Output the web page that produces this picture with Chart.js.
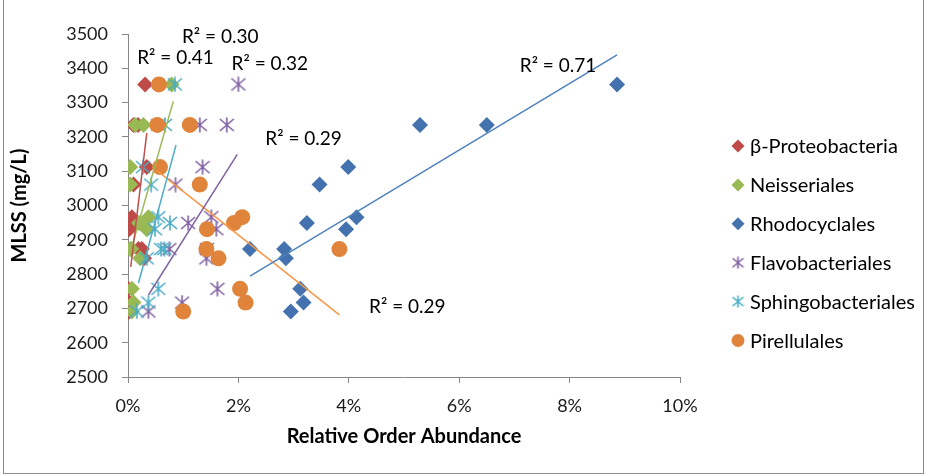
<!DOCTYPE html>
<html>
<head>
<meta charset="utf-8">
<script src="https://cdn.jsdelivr.net/npm/chart.js@4.4.0/dist/chart.umd.min.js"></script>
<style>
  html, body { margin: 0; padding: 0; background: #fff; }
  #wrap { width: 926px; height: 475px; }
</style>
</head>
<body>
<div id="wrap"><canvas id="c" width="926" height="475"></canvas></div>
<script>
// MLSS of the 14 samples (y) and relative abundance of each order (x, in %)
const mlss = [3353, 3235, 3235, 3112, 3061, 2966, 2949, 2931, 2873, 2873, 2846, 2757, 2717, 2691];

const betaProteo = [0.31, 0.18, 0.10, 0.34, 0.10, 0.07, 0.15, 0.02, 0.19, 0.25, 0.29, 0.00, 0.02, 0.02];
const neisseriales = [0.79, 0.13, 0.28, 0.04, 0.04, 0.37, 0.20, 0.34, 0.04, 0.06, 0.22, 0.07, 0.10, 0.07];
const rhodocyclales = [8.86, 6.50, 5.29, 3.99, 3.47, 4.14, 3.24, 3.95, 2.83, 2.21, 2.86, 3.12, 3.18, 2.95];
const flavobacteriales = [2.00, 1.30, 1.79, 1.35, 0.86, 1.51, 1.09, 1.60, 0.75, 1.43, 1.42, 1.62, 0.98, 0.37];
const sphingobacteriales = [0.85, 0.67, 0.55, 0.27, 0.42, 0.55, 0.76, 0.49, 0.60, 0.66, 0.34, 0.55, 0.37, 0.16];
const pirellulales = [0.56, 0.53, 1.12, 0.58, 1.30, 2.07, 1.92, 1.43, 3.83, 1.42, 1.64, 2.03, 2.13, 1.00];

const seriesNames = ['β-Proteobacteria', 'Neisseriales', 'Rhodocyclales', 'Flavobacteriales', 'Sphingobacteriales', 'Pirellulales'];
const seriesX = [betaProteo, neisseriales, rhodocyclales, flavobacteriales, sphingobacteriales, pirellulales];
const seriesColors = ['#BE4B48', '#98B954', '#4372AE', '#7F60A0', '#4AACC5', '#E0843C'];
const trendColors = ['#C0504D', '#9BBB59', '#4F81BD', '#8064A2', '#4BACC6', '#F79646'];

// linear trendline end points
const trendX = [[0.05, 0.34], [0.07, 0.82], [2.21, 8.86], [0.37, 1.98], [0.19, 0.87], [0.53, 3.83]];
const trendY = [[2821, 3211], [2880, 3303], [2794, 3439], [2739, 3149], [2774, 3176], [3101, 2681]];

// R² labels
const r2Text = ['R² = 0.41', 'R² = 0.30', 'R² = 0.32', 'R² = 0.29', 'R² = 0.71', 'R² = 0.29'];
const r2X = [0.86, 1.67, 2.57, 3.18, 7.79, 5.06];
const r2Y = [3434, 3493, 3415, 3198, 3410, 2708];

const xTicks = [0, 2, 4, 6, 8, 10];

function starMarker(color, size) {
  const c = document.createElement('canvas');
  c.width = size; c.height = size;
  const g = c.getContext('2d');
  g.strokeStyle = color;
  g.lineWidth = 1.6;
  const m = size / 2;
  g.beginPath();
  g.moveTo(m, 0.5); g.lineTo(m, size - 0.5);
  g.moveTo(1, 2); g.lineTo(size - 1, size - 2);
  g.moveTo(1, size - 2); g.lineTo(size - 1, 2);
  g.stroke();
  return c;
}

const styles = ['rectRot', 'rectRot', 'rectRot', starMarker(seriesColors[3], 16), starMarker(seriesColors[4], 16), 'circle'];
const legendStars = [null, null, null, starMarker(seriesColors[3], 13), starMarker(seriesColors[4], 13), null];

const datasets = [];
seriesX.forEach((xs, i) => {
  datasets.push({
    label: seriesNames[i],
    data: xs.map((x, j) => ({ x: x, y: mlss[j] })),
    pointStyle: styles[i],
    pointRadius: 8,
    pointHoverRadius: 8,
    backgroundColor: seriesColors[i],
    borderColor: seriesColors[i],
    borderWidth: 0,
    order: 6 - i
  });
});
trendX.forEach((xs, i) => {
  datasets.push({
    label: 'trend' + i,
    data: xs.map((x, j) => ({ x: x, y: trendY[i][j] })),
    showLine: true,
    pointRadius: 0,
    borderColor: trendColors[i],
    borderWidth: 1.5,
    order: 0
  });
});

const extras = {
  id: 'extras',
  afterDraw(chart) {
    const ctx = chart.ctx;
    const xs = chart.scales.x, ys = chart.scales.y;
    ctx.save();
    // R² labels
    ctx.fillStyle = '#000';
    ctx.font = '19px Lato';
    ctx.textAlign = 'center';
    ctx.textBaseline = 'alphabetic';
    r2Text.forEach((t, i) => {
      ctx.fillText(t, xs.getPixelForValue(r2X[i]), ys.getPixelForValue(r2Y[i]) + 7);
    });
    // legend
    ctx.textAlign = 'left';
    ctx.textBaseline = 'middle';
    ctx.font = '20px Lato';
    seriesNames.forEach((name, i) => {
      const y = 146 + i * 38.9, x = 738;
      ctx.fillStyle = seriesColors[i];
      if (legendStars[i]) {
        ctx.drawImage(legendStars[i], x - 6.5, y - 6.5);
      } else if (styles[i] === 'circle') {
        ctx.beginPath(); ctx.arc(x, y, 6.5, 0, Math.PI * 2); ctx.fill();
      } else {
        ctx.beginPath();
        ctx.moveTo(x, y - 6.5); ctx.lineTo(x + 6.5, y); ctx.lineTo(x, y + 6.5); ctx.lineTo(x - 6.5, y);
        ctx.closePath(); ctx.fill();
      }
      ctx.fillStyle = '#000';
      ctx.fillText(name, 750, y + 1);
    });
    // outer frame
    ctx.strokeStyle = '#8c8c8c';
    ctx.lineWidth = 1;
    ctx.strokeRect(3.5, -5, 920, 478.5);
    ctx.restore();
  }
};

new Chart(document.getElementById('c'), {
  type: 'scatter',
  data: { datasets: datasets },
  options: {
    responsive: false,
    animation: false,
    layout: { padding: { top: 34, right: 246, left: 0, bottom: 0 } },
    plugins: { legend: { display: false }, tooltip: { enabled: false } },
    scales: {
      x: {
        type: 'linear', min: 0, max: 10,
        afterBuildTicks: s => { s.ticks = xTicks.map(v => ({ value: v })); },
        afterFit: s => { s.height = 98; },
        ticks: { callback: v => v + '%', padding: 12, color: '#1a1a1a', font: { family: 'Lato', size: 18 } },
        grid: { drawOnChartArea: false, tickLength: 6, color: '#868686' },
        border: { color: '#868686' },
        title: { display: true, text: 'Relative Order Abundance', color: '#000',
                 font: { family: 'Lato', size: 20, weight: 'bold' }, padding: { top: 0, bottom: 26 } }
      },
      y: {
        min: 2500, max: 3500,
        afterFit: s => { s.width = 128; },
        ticks: { stepSize: 100, callback: v => String(v), padding: 14, color: '#1a1a1a', font: { family: 'Lato', size: 18 } },
        grid: { drawOnChartArea: false, tickLength: 6, color: '#868686' },
        border: { color: '#868686' },
        title: { display: true, text: 'MLSS (mg/L)', color: '#000',
                 font: { family: 'Lato', size: 20, weight: 'bold' }, padding: { top: 8, bottom: 0 } }
      }
    }
  },
  plugins: [extras]
});
</script>
</body>
</html>
